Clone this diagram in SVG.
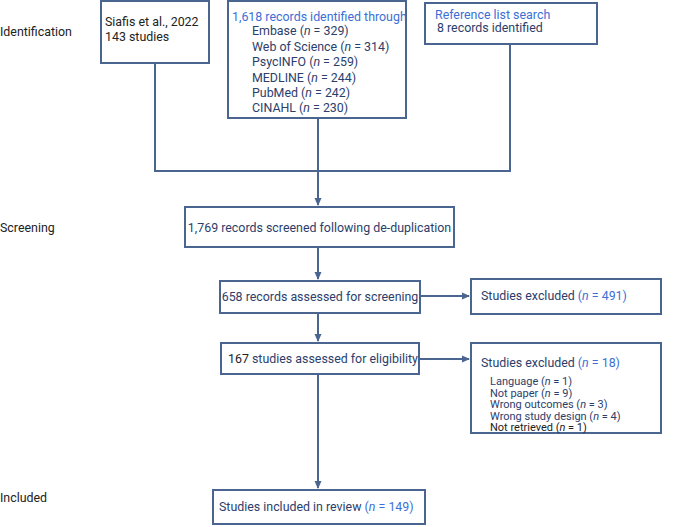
<svg xmlns="http://www.w3.org/2000/svg" width="685" height="527" viewBox="0 0 685 527">
<style>
text{font-family:Roboto,"Liberation Sans",sans-serif;font-size:12.4px;fill:#2c3e6b}
.s{font-size:11px}
.b{fill:#3b6fd6}
.k{fill:#222}
rect{fill:#fff;stroke:#4a6590;stroke-width:2}
.c line,.c path{stroke:#4a6590;stroke-width:2;fill:none}
</style>
<defs><marker id="a" markerWidth="8" markerHeight="8" refX="7" refY="4" orient="auto" markerUnits="userSpaceOnUse"><path d="M0,0.5L8,4L0,7.5z" fill="#4a6590"/></marker></defs>
<rect width="685" height="527" style="stroke:none"/>
<text x="0" y="36" class="k">Identification</text>
<text x="0" y="232" class="k">Screening</text>
<text x="0" y="502" class="k">Included</text>
<g class="c">
<path d="M155,63V171H510V44"/>
<line x1="318" y1="118" x2="318" y2="205" marker-end="url(#a)"/>
<line x1="318" y1="247" x2="318" y2="279" marker-end="url(#a)"/>
<line x1="318" y1="313" x2="318" y2="341" marker-end="url(#a)"/>
<line x1="318" y1="374" x2="318" y2="488" marker-end="url(#a)"/>
<line x1="420" y1="296" x2="469" y2="296" marker-end="url(#a)"/>
<line x1="419" y1="359" x2="469" y2="359" marker-end="url(#a)"/>
</g>
<g id="siafis"><rect x="101" y="1" width="108" height="62"/><text x="105" y="26" class="k">Siafis et al., 2022</text><text x="105" y="41" class="k">143 studies</text></g>
<g id="db"><rect x="228" y="1" width="178" height="117"/>
<text x="232" y="21" class="b">1,618 records identified through</text>
<text x="252" y="35">Embase (<tspan font-style="italic">n</tspan> = 329)</text>
<text x="252" y="51">Web of Science (<tspan font-style="italic">n</tspan> = 314)</text>
<text x="252" y="66">PsycINFO (<tspan font-style="italic">n</tspan> = 259)</text>
<text x="252" y="82">MEDLINE (<tspan font-style="italic">n</tspan> = 244)</text>
<text x="252" y="97">PubMed (<tspan font-style="italic">n</tspan> = 242)</text>
<text x="252" y="112">CINAHL (<tspan font-style="italic">n</tspan> = 230)</text></g>
<g id="ref"><rect x="425" y="3" width="172" height="41"/><text x="435" y="19" class="b">Reference list search</text><text x="437" y="32">8 records identified</text></g>
<g id="screen"><rect x="185" y="207" width="269" height="40"/><text x="319.5" y="232" text-anchor="middle">1,769 records screened following de-duplication</text></g>
<g id="assess"><rect x="220" y="281" width="200" height="32"/><text x="320" y="301" text-anchor="middle">658 records assessed for screening</text></g>
<g id="ex1"><rect x="471" y="279" width="190" height="35"/><text x="481" y="300">Studies excluded <tspan class="b">(<tspan font-style="italic">n</tspan> = 491)</tspan></text></g>
<g id="elig"><rect x="221" y="343" width="198" height="31"/><text x="228" y="363" class="k">167 <tspan style="fill:#2c3e6b">studies assessed for eligibility</tspan></text></g>
<g id="ex2"><rect x="471" y="343" width="190" height="90"/>
<text x="481" y="367">Studies excluded <tspan class="b">(<tspan font-style="italic">n</tspan> = 18)</tspan></text>
<text x="490" y="385" class="s">Language (<tspan font-style="italic">n</tspan> = 1)</text>
<text x="490" y="396.5" class="s">Not paper (<tspan font-style="italic">n</tspan> = 9)</text>
<text x="490" y="408" class="s">Wrong outcomes (<tspan font-style="italic">n</tspan> = 3)</text>
<text x="490" y="419.5" class="s">Wrong study design (<tspan font-style="italic">n</tspan> = 4)</text>
<text x="490" y="431" class="s k">Not retrieved (<tspan font-style="italic">n</tspan> = 1)</text></g>
<g id="incl"><rect x="213" y="490" width="212" height="34"/><text x="219" y="511">Studies included in review <tspan class="b">(<tspan font-style="italic">n</tspan> = 149)</tspan></text></g>
</svg>
